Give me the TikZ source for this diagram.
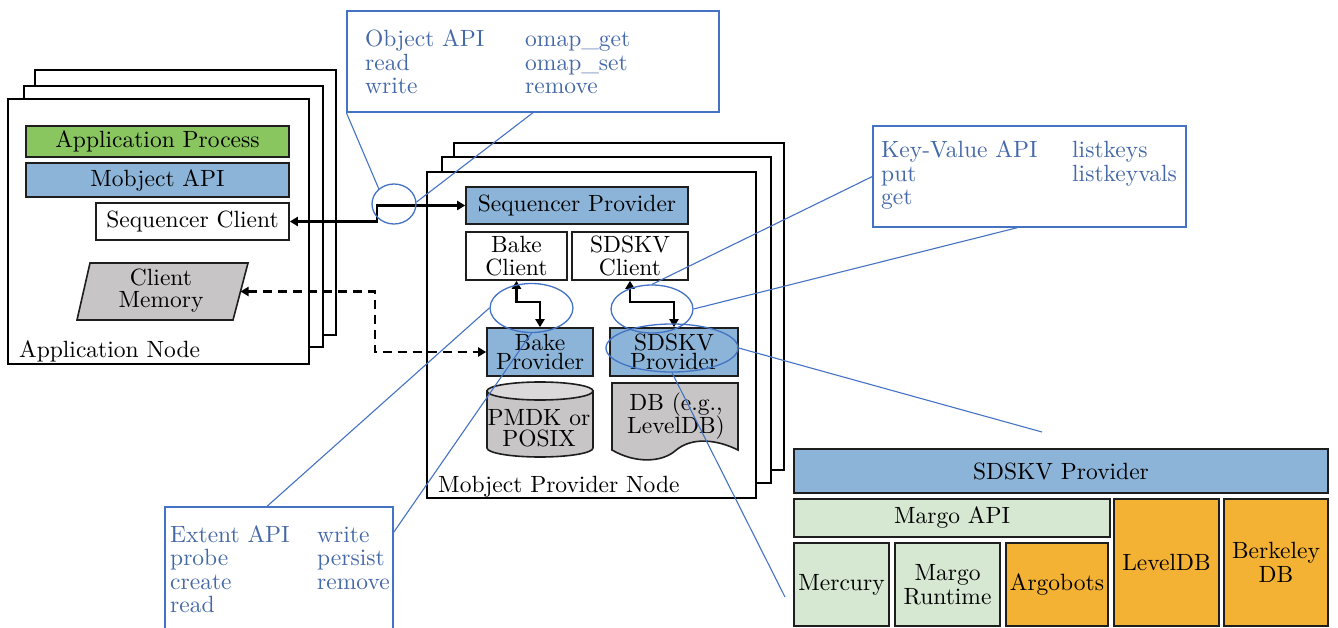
\documentclass[tikz,border=0pt]{standalone}
\usepackage{fontspec}
\setmainfont{lmroman10-regular.otf}
\usetikzlibrary{shapes.geometric,arrows.meta,calc}
\definecolor{appgreen}{RGB}{137,198,96}
\definecolor{provblue}{RGB}{139,180,216}
\definecolor{lgreen}{RGB}{214,231,210}
\definecolor{orng}{RGB}{244,178,52}
\definecolor{gry}{RGB}{199,197,198}
\definecolor{gtop}{RGB}{219,217,218}
\definecolor{cline}{RGB}{68,114,196}
\definecolor{ctext}{RGB}{68,104,168}
\definecolor{edge}{RGB}{30,30,30}
\begin{document}
\begin{tikzpicture}[x=1pt,y=-1pt,
  font=\fontsize{23.5}{23.5}\selectfont,
  stackbox/.style={draw=black,line width=1.4pt,fill=white},
  blk/.style={draw=edge,line width=1.6pt,inner sep=0pt,align=center},
  shp/.style={draw=edge,line width=1.6pt},
  tip/.tip={Triangle[length=8pt,width=9pt]},
  conn/.style={line width=2.2pt,tip-tip},
  callbox/.style={draw=cline,line width=1.3pt,inner sep=0pt},
  callout/.style={draw=cline,line width=1.1pt},
  ell/.style={ellipse,draw=cline,line width=1.3pt,inner sep=0pt},
  ctxt/.style={text=ctext,inner sep=0pt,anchor=base west},
  lbl/.style={inner sep=0pt,anchor=base west}
]
\useasboundingbox (0,0) rectangle (1338,628);
\clip (0,0) rectangle (1338,628);

% ---------- Application node stack ----------
\draw[stackbox] (35,70) rectangle (336,335);
\draw[stackbox] (24,86) rectangle (323,347);
\draw[stackbox] (8,99) rectangle (309,364);
\node[lbl] (applbl) at (19,357) {Application Node};

\node[blk,fill=appgreen,minimum width=263pt,minimum height=31pt] (appproc) at (157.5,141.5) {Application Process};
\node[blk,fill=provblue,minimum width=263pt,minimum height=34pt] (mobapi) at (157.5,180) {Mobject API};
\node[blk,fill=white,minimum width=193pt,minimum height=37pt] (seqcl) at (192.5,221.5) {Sequencer Client};

\draw[shp,fill=gry] (77,320) -- (90,263) -- (248,263) -- (233,320) -- cycle;
\node[inner sep=0pt,align=center,font=\fontsize{23.5}{22}\selectfont] (cm) at (161,291) {Client\\Memory};
\coordinate (cmR) at (240.5,291.5);

% ---------- Provider node stack ----------
\draw[stackbox] (454,143) rectangle (784,470);
\draw[stackbox] (442,157) rectangle (771,483);
\draw[stackbox] (427,172) rectangle (756,498);
\node[lbl] (provlbl) at (438,492) {Mobject Provider Node};

\node[blk,fill=provblue,minimum width=222pt,minimum height=37pt] (seqprov) at (577,205.5) {Sequencer Provider};
\node[blk,fill=white,minimum width=101pt,minimum height=48pt] (bakecl) at (516.5,256) {Bake\\Client};
\node[blk,fill=white,minimum width=116pt,minimum height=48pt] (sdcl) at (630,256) {SDSKV\\Client};
\node[blk,fill=provblue,minimum width=106pt,minimum height=48pt,font=\fontsize{23.5}{18.5}\selectfont] (bakeprov) at (540,352) {Bake\\Provider};
\node[blk,fill=provblue,minimum width=128pt,minimum height=48pt,font=\fontsize{23.5}{18.5}\selectfont] (sdprov) at (674,352) {SDSKV\\Provider};

% cylinder
\draw[shp,fill=gry] (487,391) -- (487,448) arc[start angle=180,end angle=0,x radius=53,y radius=9] -- (593,391) -- cycle;
\draw[shp,fill=gtop] (540,391) ellipse[x radius=53,y radius=9];
\node[inner sep=0pt,align=center,font=\fontsize{23.5}{20.5}\selectfont] (pmdk) at (539,428) {PMDK or\\POSIX};

% document shape
\draw[shp,fill=gry] (612,450) -- (612,383) -- (738,383) -- (738,450)
  .. controls (718,440) and (692,436) .. (675,451)
  .. controls (662,462) and (636,464) .. (612,450) -- cycle;
\node[inner sep=0pt,align=center] (db) at (676,416) {DB (e.g.,\\LevelDB)};

% ---------- connectors ----------
\coordinate (sj) at (377,213);
\draw[conn] (seqcl.east) -| (sj) |- (seqprov.west);
\draw[conn] (bakecl.south) |- ([yshift=25pt]bakeprov.north) -- (bakeprov.north);
\draw[conn] (sdcl.south) |- ([yshift=25pt]sdprov.north) -- (sdprov.north);
\coordinate (dj) at (375,352);
\draw[conn,dash pattern=on 9pt off 6pt] (cmR) -| (dj) -- (bakeprov.west);

% ---------- bottom-right stack ----------
\node[blk,fill=provblue,minimum width=534pt,minimum height=44pt] (bsd) at (1061,471) {SDSKV Provider};
\node[blk,fill=lgreen,minimum width=316pt,minimum height=38pt] (margo) at (952,518) {Margo API};
\node[blk,fill=lgreen,minimum width=95pt,minimum height=83pt] (merc) at (841.5,584.5) {Mercury};
\node[blk,fill=lgreen,minimum width=105pt,minimum height=83pt] (mrt) at (947.5,584.5) {Margo\\Runtime};
\node[blk,fill=orng,minimum width=102pt,minimum height=83pt] (argo) at (1057,584.5) {Argobots};
\node[blk,fill=orng,minimum width=105pt,minimum height=127pt] (ldb) at (1166.5,562.5) {LevelDB};
\node[blk,fill=orng,minimum width=104pt,minimum height=127pt,font=\fontsize{23.5}{24}\selectfont] (bdb) at (1276,562.5) {Berkeley\\DB};

% ---------- callouts ----------
\node[callbox,minimum width=372pt,minimum height=101pt] (objbox) at (533,61.5) {};
\node[ctxt] (objtxt) at (365,47) {\begin{tabular}[t]{@{}p{160pt}@{}l@{}}Object API & omap\_get\\ read & omap\_set\\ write & remove\end{tabular}};

\node[callbox,minimum width=313pt,minimum height=101pt] (kvbox) at (1029.5,176.5) {};
\node[ctxt] (kvtxt) at (881,158) {\begin{tabular}[t]{@{}p{191pt}@{}l@{}}Key-Value API & listkeys\\ put & listkeyvals\\ get & \end{tabular}};

\node[callbox,minimum width=228pt,minimum height=160pt] (exbox) at (279,587) {};
\node[ctxt] (extxt) at (170,542) {\begin{tabular}[t]{@{}p{147pt}@{}l@{}}Extent API & write\\ probe & persist\\ create & remove\\ read & \end{tabular}};

\node[ell,minimum width=44pt,minimum height=40pt] (e1) at (394,204) {};
\node[ell,minimum width=83pt,minimum height=49pt] (eb) at (531.5,308) {};
\node[ell,minimum width=82pt,minimum height=48pt] (es) at (652,309) {};
\node[ell,minimum width=132pt,minimum height=48pt] (ep) at (672,348) {};

\coordinate (f1) at (1042,432);
\coordinate (f2) at (785,597);

\draw[callout] (objbox.south west) -- (e1.135);
\draw[callout] (objbox.south) -- (e1.5);
\draw[callout] ([xshift=-12pt]exbox.north) -- (eb.180);
\draw[callout] ([yshift=-26pt]exbox.north east) -- (eb.270);
\draw[callout] (kvbox.west) -- (es.90);
\draw[callout] ([xshift=-12pt]kvbox.south) -- (es.0);
\draw[callout] (ep.0) -- (f1);
\draw[callout] (ep.270) -- (f2);
\end{tikzpicture}
\end{document}
